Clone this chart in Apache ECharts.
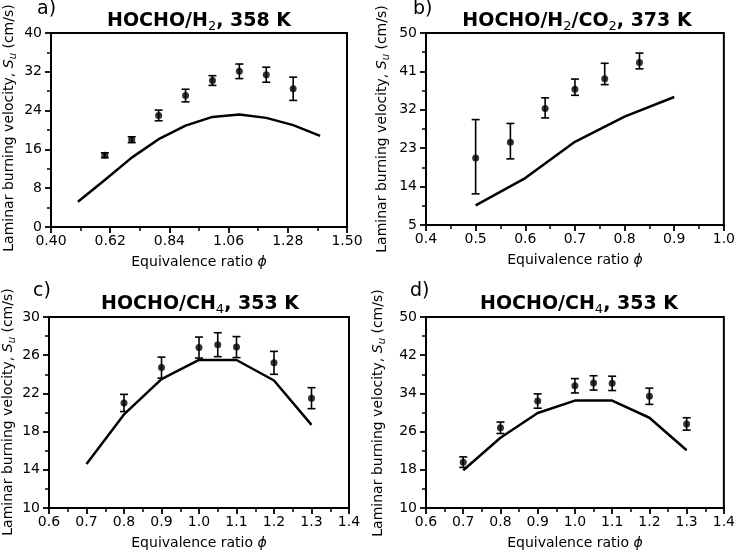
<!DOCTYPE html>
<html><head><meta charset="utf-8">
<script src="https://cdn.jsdelivr.net/npm/echarts@6/dist/echarts.min.js"></script>
<style>html,body{margin:0;padding:0;background:#fff}#c{width:738px;height:553px}</style>
</head><body><div id="c"></div>
<script>
// ---- Panel a: HOCHO/H2, 358 K ----
const aPhiExp = [0.6, 0.7, 0.8, 0.9, 1.0, 1.1, 1.2, 1.3];
const aSuExp  = [14.8, 18.0, 23.0, 27.1, 30.2, 32.1, 31.4, 28.5];
const aErr    = [0.5, 0.6, 1.1, 1.3, 1.0, 1.5, 1.55, 2.4];
const aPhiSim = [0.5, 0.6, 0.7, 0.8, 0.9, 1.0, 1.1, 1.2, 1.3, 1.4];
const aSuSim  = [5.2, 9.7, 14.3, 18.1, 20.9, 22.7, 23.2, 22.5, 21.0, 18.8];
// ---- Panel b: HOCHO/H2/CO2, 373 K ----
const bPhiExp = [0.5, 0.57, 0.64, 0.70, 0.76, 0.83];
const bSuExp  = [20.7, 24.4, 32.3, 36.8, 39.3, 43.1];
const bErrLo  = [12.3, 20.5, 30.1, 35.4, 37.9, 41.6];
const bErrHi  = [29.7, 28.8, 34.8, 39.2, 42.9, 45.3];
const bPhiSim = [0.5, 0.6, 0.7, 0.8, 0.9];
const bSuSim  = [9.6, 16.0, 24.5, 30.4, 35.0];
// ---- Panel c: HOCHO/CH4, 353 K ----
const cPhiExp = [0.8, 0.9, 1.0, 1.05, 1.1, 1.2, 1.3];
const cSuExp  = [21.0, 24.7, 26.8, 27.1, 26.85, 25.2, 21.5];
const cErr    = [0.9, 1.1, 1.1, 1.25, 1.1, 1.2, 1.1];
const cPhiSim = [0.7, 0.8, 0.9, 1.0, 1.1, 1.2, 1.3];
const cSuSim  = [14.6, 19.8, 23.5, 25.5, 25.5, 23.35, 18.7];
// ---- Panel d: HOCHO/CH4, 353 K ----
const dPhiExp = [0.7, 0.8, 0.9, 1.0, 1.05, 1.1, 1.2, 1.3];
const dSuExp  = [19.6, 26.8, 32.4, 35.6, 36.2, 36.1, 33.4, 27.6];
const dErr    = [1.1, 1.2, 1.5, 1.5, 1.5, 1.5, 1.7, 1.3];
const dPhiSim = [0.7, 0.8, 0.9, 1.0, 1.1, 1.2, 1.3];
const dSuSim  = [17.9, 24.7, 29.9, 32.5, 32.5, 28.9, 22.1];

const FONT = 'DejaVu Sans';
const chart = echarts.init(document.getElementById('c'), null, {renderer: 'canvas'});

const panels = [
  {grid: {left: 51, top: 33, width: 296, height: 194},
   x: {min: 0.4, max: 1.5, interval: 0.22, dec: 2}, y: {min: 0, max: 40, interval: 8},
   exp: aPhiExp.map((p, i) => [p, aSuExp[i]]),
   err: aPhiExp.map((p, i) => [p, aSuExp[i] - aErr[i], aSuExp[i] + aErr[i]]),
   sim: aPhiSim.map((p, i) => [p, aSuSim[i]])},
  {grid: {left: 426, top: 33, width: 301, height: 192},
   x: {min: 0.4, max: 1.0, interval: 0.1, dec: 1}, y: {min: 5, max: 50, interval: 9},
   exp: bPhiExp.map((p, i) => [p, bSuExp[i]]),
   err: bPhiExp.map((p, i) => [p, bErrLo[i], bErrHi[i]]),
   sim: bPhiSim.map((p, i) => [p, bSuSim[i]])},
  {grid: {left: 49, top: 317, width: 300, height: 191},
   x: {min: 0.6, max: 1.4, interval: 0.1, dec: 1}, y: {min: 10, max: 30, interval: 4},
   exp: cPhiExp.map((p, i) => [p, cSuExp[i]]),
   err: cPhiExp.map((p, i) => [p, cSuExp[i] - cErr[i], cSuExp[i] + cErr[i]]),
   sim: cPhiSim.map((p, i) => [p, cSuSim[i]])},
  {grid: {left: 426, top: 317, width: 301, height: 191},
   x: {min: 0.6, max: 1.4, interval: 0.1, dec: 1}, y: {min: 10, max: 50, interval: 8},
   exp: dPhiExp.map((p, i) => [p, dSuExp[i]]),
   err: dPhiExp.map((p, i) => [p, dSuExp[i] - dErr[i], dSuExp[i] + dErr[i]]),
   sim: dPhiSim.map((p, i) => [p, dSuSim[i]])}
];

const axisCommon = {
  axisLine: {show: true, lineStyle: {color: '#000', width: 2}},
  axisTick: {show: true, length: 6, lineStyle: {color: '#000', width: 1.8}},
  minorTick: {show: true, splitNumber: 2, length: 4, lineStyle: {color: '#000', width: 1.5}},
  splitLine: {show: false}
};

function errRender(params, api) {
  const x = api.value(0), lo = api.value(1), hi = api.value(2);
  const p1 = api.coord([x, hi]), p2 = api.coord([x, lo]);
  const w = 4;
  const st = {stroke: '#000', lineWidth: 1.6};
  return {type: 'group', children: [
    {type: 'line', shape: {x1: p1[0], y1: p1[1], x2: p2[0], y2: p2[1]}, style: st},
    {type: 'line', shape: {x1: p1[0] - w, y1: p1[1], x2: p1[0] + w, y2: p1[1]}, style: st},
    {type: 'line', shape: {x1: p2[0] - w, y1: p2[1], x2: p2[0] + w, y2: p2[1]}, style: st}
  ]};
}

const grids = [], xAxes = [], yAxes = [], series = [];
panels.forEach((P, k) => {
  grids.push(Object.assign({show: true, borderColor: '#000', borderWidth: 2, backgroundColor: 'transparent'}, P.grid));
  xAxes.push(Object.assign({}, axisCommon, {
    type: 'value', gridIndex: k, min: P.x.min, max: P.x.max, interval: P.x.interval,
    axisLabel: {color: '#000', fontFamily: FONT, fontSize: 14, margin: 7,
      formatter: v => v.toFixed(P.x.dec)},
    name: 'Equivalence ratio {i|ϕ}', nameLocation: 'middle', nameGap: 28,
    nameTextStyle: {color: '#000', fontFamily: FONT, fontSize: 14, verticalAlign: 'top',
      rich: {i: {fontFamily: FONT, fontSize: 14, fontStyle: 'italic', color: '#000'}}}
  }));
  yAxes.push(Object.assign({}, axisCommon, {
    type: 'value', gridIndex: k, min: P.y.min, max: P.y.max, interval: P.y.interval,
    axisLabel: {color: '#000', fontFamily: FONT, fontSize: 14, margin: 9}
  }));
  series.push({type: 'line', xAxisIndex: k, yAxisIndex: k, data: P.sim, showSymbol: false,
    lineStyle: {color: '#000', width: 2.5}, silent: true, animation: false});
  series.push({type: 'custom', xAxisIndex: k, yAxisIndex: k, data: P.err, renderItem: errRender,
    encode: {x: 0, y: [1, 2]}, silent: true, animation: false});
  series.push({type: 'scatter', xAxisIndex: k, yAxisIndex: k, data: P.exp, symbol: 'circle',
    symbolSize: 7, itemStyle: {color: '#000'}, silent: true, animation: false});
});

const titleRich = {
  b: {fontFamily: FONT, fontSize: 19, fontWeight: 'bold', color: '#000', lineHeight: 23},
  s: {fontFamily: FONT, fontSize: 13, fontWeight: 'normal', color: '#000', lineHeight: 13, verticalAlign: 'bottom'}
};
function mkTitle(text, cx, top) {
  return {text, left: cx, top, textAlign: 'center', padding: 0,
    textStyle: {rich: titleRich, fontFamily: FONT, fontSize: 19, fontWeight: 'bold', color: '#000'}};
}
const lblStyle = {fontFamily: FONT, fontSize: 19, fontWeight: 'normal', color: '#000'};

const yRich = {
  n: {fontFamily: FONT, fontSize: 14, color: '#000', lineHeight: 18},
  i: {fontFamily: FONT, fontSize: 14, fontStyle: 'italic', color: '#000', lineHeight: 18},
  u: {fontFamily: FONT, fontSize: 10, fontStyle: 'italic', color: '#000', lineHeight: 10, verticalAlign: 'bottom'}
};
const yText = '{n|Laminar burning velocity, }{i|S}{u|u}{n| (cm/s)}';
function yName(x, y) {
  return {type: 'text', x, y, rotation: Math.PI / 2, silent: true,
    style: {text: yText, rich: yRich, align: 'center', verticalAlign: 'middle'}};
}

chart.setOption({
  animation: false,
  backgroundColor: '#fff',
  grid: grids, xAxis: xAxes, yAxis: yAxes, series,
  title: [
    mkTitle('{b|HOCHO/H}{s|2}{b|, 358 K}', 199, 10),
    mkTitle('{b|HOCHO/H}{s|2}{b|/CO}{s|2}{b|, 373 K}', 577, 10),
    mkTitle('{b|HOCHO/CH}{s|4}{b|, 353 K}', 200, 293),
    mkTitle('{b|HOCHO/CH}{s|4}{b|, 353 K}', 579, 293),
    {text: 'a)', left: 37, top: 0, padding: 0, textStyle: lblStyle},
    {text: 'b)', left: 413, top: 0, padding: 0, textStyle: lblStyle},
    {text: 'c)', left: 33, top: 282, padding: 0, textStyle: lblStyle},
    {text: 'd)', left: 410, top: 282, padding: 0, textStyle: lblStyle}
  ],
  graphic: [yName(9, 128), yName(382, 129), yName(8, 412), yName(378, 413)]
});
</script></body></html>
